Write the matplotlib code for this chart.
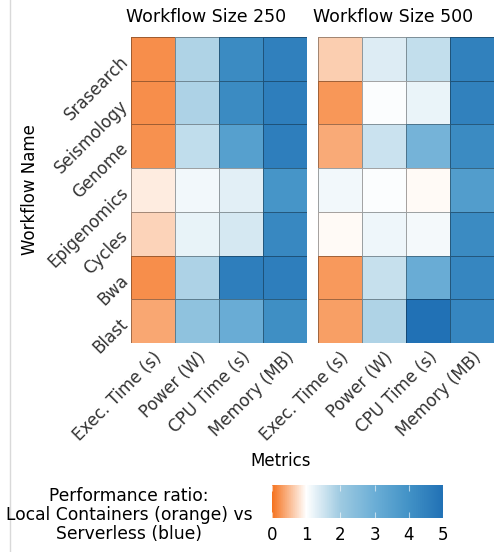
import numpy as np
import matplotlib
matplotlib.use("Agg")
import matplotlib.pyplot as plt
from matplotlib.colors import LinearSegmentedColormap, Normalize
from matplotlib.lines import Line2D

# workflows top to bottom, metrics left to right
workflows = ["Srasearch", "Seismology", "Genome", "Epigenomics",
             "Cycles", "Bwa", "Blast"]
metrics = ["Exec. Time (s)", "Power (W)", "CPU Time (s)", "Memory (MB)"]
sizes = ["Workflow Size 250", "Workflow Size 500"]

# performance ratio, size 250
ratio_250 = [
    [0.20, 1.83, 4.2, 4.55],
    [0.20, 1.85, 4.2, 4.6],
    [0.22, 1.65, 3.5, 4.6],
    [0.86, 1.14, 1.29, 3.9],
    [0.69, 1.24, 1.43, 4.3],
    [0.20, 1.85, 4.6, 4.6],
    [0.38, 2.3, 3.05, 4.1],
]
# performance ratio, size 500
ratio_500 = [
    [0.65, 1.36, 1.63, 4.5],
    [0.27, 1.05, 1.23, 4.5],
    [0.40, 1.55, 2.8, 4.2],
    [1.15, 1.05, 0.97, 3.6],
    [0.97, 1.19, 1.12, 4.2],
    [0.28, 1.6, 3.05, 4.35],
    [0.33, 1.83, 5.0, 4.35],
]

# orange at 0, white at 1, then blues up to 5
cmap = LinearSegmentedColormap.from_list(
    "ratio", ["#f5731f", "#ffffff", "#9ecae1", "#6baed6", "#4292c6",
              "#2171b5"])
norm = Normalize(vmin=0, vmax=5)

fig = plt.figure(figsize=(4.99, 5.52), dpi=100)
W, H = 499.0, 552.0


def px_axes(left, top, right, bottom):
    return fig.add_axes([left / W, 1 - bottom / H,
                         (right - left) / W, (bottom - top) / H])


ax1 = px_axes(131, 37, 307, 343)
ax2 = px_axes(318, 37, 494, 343)

label_color = "#333333"
for ax, data, title in zip([ax1, ax2], [ratio_250, ratio_500], sizes):
    arr = np.array(data)
    mesh = ax.pcolormesh(arr, cmap=cmap, norm=norm,
                         edgecolor=(0, 0, 0, 0.35), linewidth=0.6)
    ax.set_xlim(0, arr.shape[1])
    ax.set_ylim(arr.shape[0], 0)
    for s in ax.spines.values():
        s.set_visible(False)
    # titles sit a little left of the panel centre
    ax.text(0.425, 1.035, title, transform=ax.transAxes, ha="center",
            va="bottom", fontsize=12.5)
    ax.set_xticks(np.arange(len(metrics)) + 0.5)
    ax.set_xticklabels(metrics, rotation=45, ha="right",
                       rotation_mode="anchor", fontsize=12,
                       color=label_color)
    ax.tick_params(length=0, pad=4)

ax1.set_yticks(np.arange(len(workflows)) + 0.5)
ax1.set_yticklabels(workflows, rotation=45, ha="right", va="center",
                    rotation_mode="anchor", fontsize=12,
                    color=label_color)
ax1.set_ylabel("Workflow Name", fontsize=12, labelpad=4)
ax2.set_yticks([])

fig.text(281 / W, 1 - 461 / H, "Metrics", ha="center", va="center",
         fontsize=12)

# colorbar
cax = px_axes(272, 485, 443, 518)
cb = fig.colorbar(mesh, cax=cax, orientation="horizontal")
cb.outline.set_visible(False)
cb.set_ticks([0, 1, 2, 3, 4, 5])
cax.tick_params(labelsize=12, length=4, width=0.8, direction="in",
                color=(1, 1, 1, 0.6), pad=6, top=True)
fig.text(129 / W, 1 - 515 / H,
         "Performance ratio:\nLocal Containers (orange) vs\nServerless (blue)",
         ha="center", va="center", fontsize=12.3, linespacing=1.05)

# thin frame line on the left
fig.add_artist(Line2D([10 / W, 10 / W], [0, 1], color="#d9d9d9",
                      linewidth=1, transform=fig.transFigure))

fig.savefig("out.png", dpi=100)
